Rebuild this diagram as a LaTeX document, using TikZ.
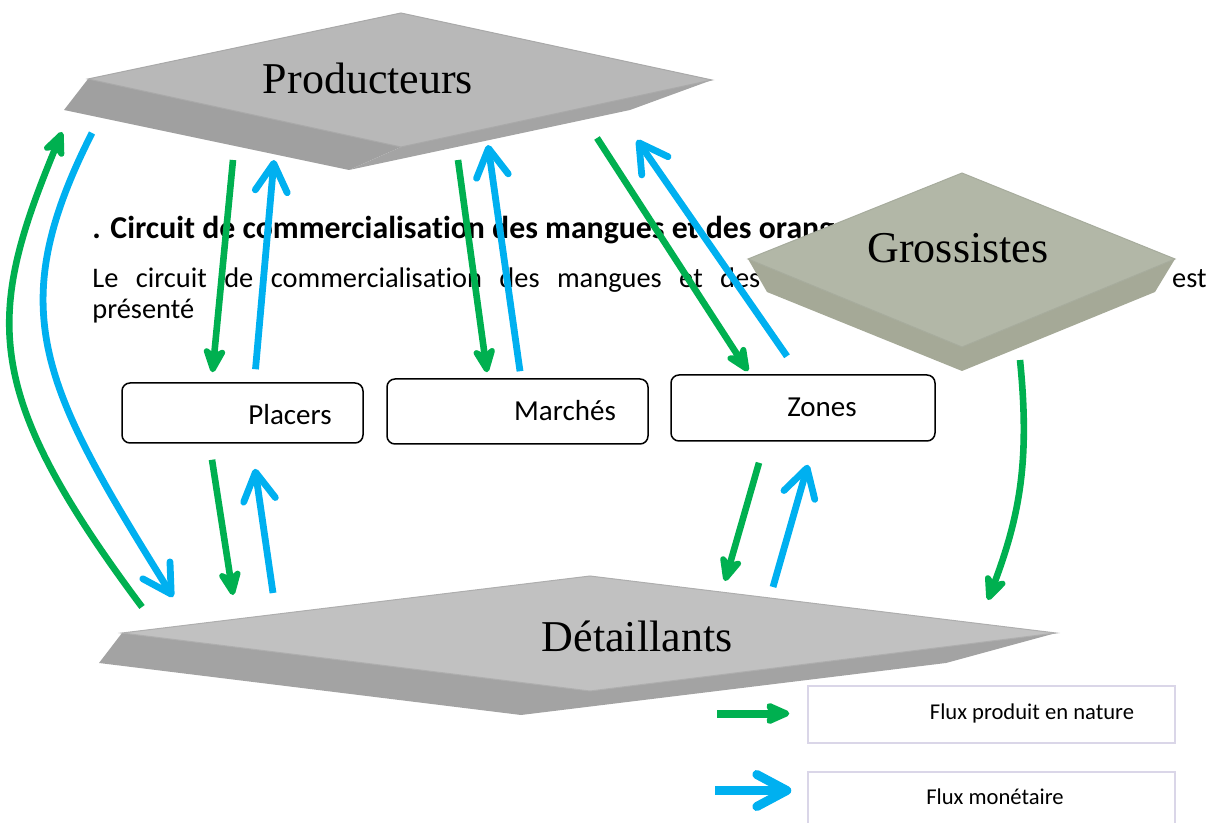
\documentclass[tikz,border=0pt]{standalone}
\usepackage{fontspec}
\setmainfont[Ligatures=CommonOff]{Carlito}
\newfontfamily\shapefont{Liberation Serif}
\usetikzlibrary{arrows.meta,calc}

\definecolor{flgreen}{HTML}{00B050}
\definecolor{flblue}{HTML}{00B0F0}
\definecolor{prodtop}{HTML}{B8B8B8}
\definecolor{prodside}{HTML}{A0A0A0}
\definecolor{grostop}{HTML}{B2B7A7}
\definecolor{grosside}{HTML}{A5A997}
\definecolor{dettop}{HTML}{C1C1C1}
\definecolor{detside}{HTML}{A3A3A3}
\definecolor{legborder}{HTML}{DAD6E8}

\tikzset{
  prodflow/.style={draw=flgreen, line width=3.3pt, -{Stealth[length=16pt,width=14pt,inset=4.5pt,round]}},
  moneyflow/.style={draw=flblue, line width=3.4pt, -{Straight Barb[length=14pt,width=16pt,round]}},
  place/.style={draw, rounded corners=4pt, line width=0.75pt, inner sep=0pt},
  placetext/.style={inner sep=0pt, font=\fontsize{14.5}{17}\selectfont},
  legbox/.style={draw=legborder, line width=0.7pt, minimum width=183.5pt, minimum height=28.5pt, inner sep=0pt},
  legtext/.style={inner sep=0pt, font=\fontsize{11.3}{13}\selectfont},
  shapelabel/.style={inner sep=0pt, font=\shapefont\fontsize{22}{26}\selectfont},
  heading/.style={inner sep=0pt, font=\fontsize{15.9}{19}\selectfont\bfseries},
  bodytext/.style={inner sep=0pt, font=\fontsize{14.2}{17}\selectfont},
}

\begin{document}
\begin{tikzpicture}[x=0.5pt,y=-0.5pt]
  \useasboundingbox (0,0) rectangle (1215,823);

  % texte du document, en partie cache
  \node[heading, anchor=base west] (title) at (92,239) {. Circuit de commercialisation des mangues et des oranges};
  \node[bodytext, anchor=base west] (line2) at (92,288) {\makebox[334pt][s]{Le circuit de commercialisation des mangues et des}};
  \node[bodytext, anchor=base east] (line2end) at (1207,288) {est};
  \node[bodytext, anchor=base west] (line3) at (92,319) {présenté};

  % Producteurs
  \fill[prodside] (88,79) -- (64,110) -- (349,170) -- (401,147) -- cycle;
  \fill[prodside!96!white] (401,147) -- (349,170) -- (630,110) -- (712,80) -- cycle;
  \filldraw[fill=prodtop, draw=prodtop!92!black, line width=0.5pt] (88,79) -- (401,13) -- (712,80) -- (401,147) -- cycle;
  \node[shapelabel] (prod) at (368,78) {Producteurs};

  % Grossistes
  \fill[grosside] (748,259) -- (767,292) -- (962,371) -- (1155,292) -- (1175,259) -- (962,347) -- cycle;
  \filldraw[fill=grostop, draw=grostop!94!black, line width=0.5pt] (748,259) -- (962,173) -- (1175,259) -- (962,347) -- cycle;
  \node[shapelabel] (gros) at (958,248) {Grossistes};

  % Detaillants
  \fill[detside] (122,633) -- (99,663) -- (521,715) -- (946,663) -- (1056,633) -- (590,691) -- cycle;
  \filldraw[fill=dettop, draw=dettop!90!black, line width=0.5pt] (122,633) -- (590,576) -- (1056,633) -- (590,691) -- cycle;
  \node[shapelabel] (det) at (637,636) {Détaillants};

  % lieux de vente
  \node[place, minimum width=120.5pt, minimum height=30pt] (placers) at (242.5,413) {};
  \node[place, minimum width=130.5pt, minimum height=32.5pt] (marches) at (517.5,411.5) {};
  \node[place, minimum width=132pt, minimum height=33pt] (zones) at (803,408) {};
  \node[placetext] (placerstxt) at (290,415) {Placers};
  \node[placetext] (marchestxt) at (565,411) {Marchés};
  \node[placetext] (zonestxt) at (822,407) {Zones};

  % bouts des fleches sur les formes
  \coordinate (prodPl) at (233,160);
  \coordinate (plProd) at (274,160);
  \coordinate (prodMa) at (458,160);
  \coordinate (maProd) at (488,145);
  \coordinate (prodZo) at (597,138);
  \coordinate (zoProd) at (637,140);
  \coordinate (detPl) at (233,595);
  \coordinate (plDet) at (273,593);
  \coordinate (detZo) at (725,581);
  \coordinate (zoDet) at (773,587);

  \path
  (prodPl) edge[prodflow] ($(placers.north)+(-30,-10)$)
  ($(placers.north)+(13,-13)$) edge[moneyflow] (plProd)
  (prodMa) edge[prodflow] ($(marches.north)+(-30.5,-6)$)
  ($(marches.north)+(2.5,-7)$) edge[moneyflow] (maProd)
  (prodZo) edge[prodflow] ($(zones.north)+(-55,-3)$)
  ($(zones.north)+(-16,-18)$) edge[moneyflow] (zoProd)

  ($(placers.south)+(-30.5,16)$) edge[prodflow] (detPl)
  (plDet) edge[moneyflow] ($(placers.south)+(12.5,25)$)
  ($(zones.south)+(-44,21)$) edge[prodflow] (detZo)
  (zoDet) edge[moneyflow] ($(zones.south)+(5,23)$)
  ;

  % circuits directs
  \draw[prodflow] (142,607) .. controls (-20,390) and (-14,316) .. (62,132);
  \draw[moneyflow] (92,133) .. controls (2,311) and (41,385) .. (173,597);
  \draw[prodflow] (1020,360) .. controls (1030,460) and (1020,515) .. (988,600);

  % legende
  \node[legbox] (leg1) at (991.5,714.5) {};
  \node[legbox] (leg2) at (991.5,800.5) {};
  \node[legtext] (leg1txt) at (1032,713) {Flux produit en nature};
  \node[legtext] (leg2txt) at (995,797) {Flux monétaire};
  \draw[draw=flgreen, line width=4pt, -{Stealth[length=15pt,width=13pt,inset=3pt,round]}]
    ($(leg1.west)+(-90,-1)$) -- ($(leg1.west)+(-18,-1)$);
  \draw[draw=flblue, line width=4.5pt, -{Straight Barb[length=15pt,width=16pt,round]}]
    ($(leg2.west)+(-92,-10)$) -- ($(leg2.west)+(-16,-10)$);
\end{tikzpicture}
\end{document}
